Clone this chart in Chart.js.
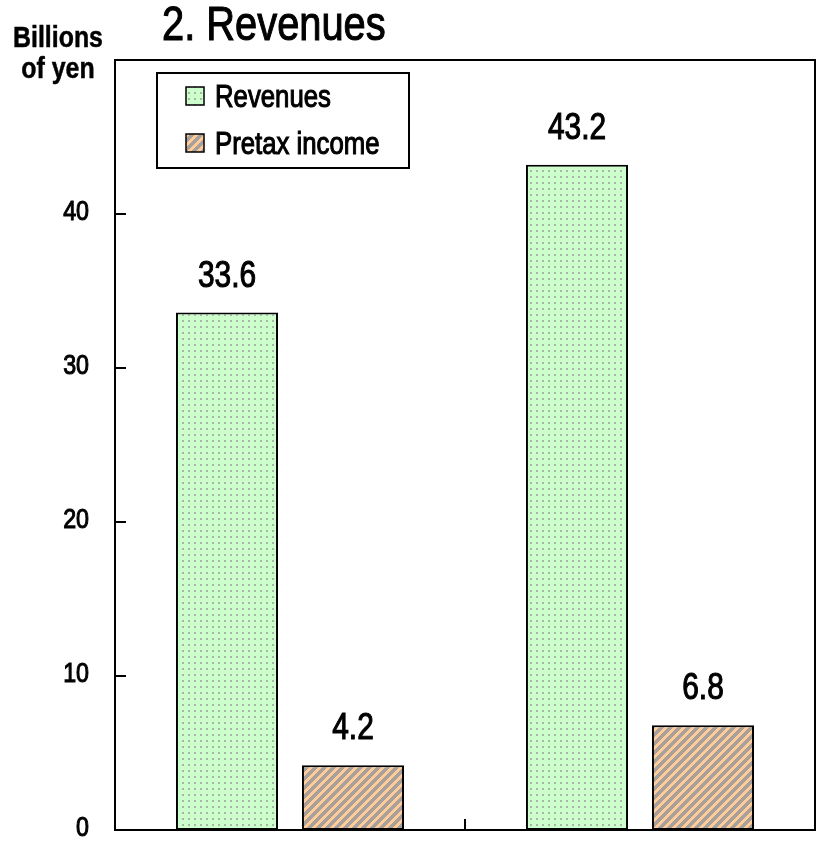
<!DOCTYPE html>
<html>
<head>
<meta charset="utf-8">
<script src="https://cdn.jsdelivr.net/npm/chart.js@4/dist/chart.umd.min.js"></script>
<style>
  html, body { margin: 0; padding: 0; background: #fff; }
  #chart { display: block; }
</style>
</head>
<body>
<canvas id="chart" width="817" height="846"></canvas>
<script>
// ---------------- DATA ----------------
const categories = ["Previous year", "Current year"];
const seriesNames = ["Revenues", "Pretax income"];
const revenues = [33.6, 43.2];
const pretaxIncome = [4.2, 6.8];
const yTicks = [0, 10, 20, 30, 40];
const yMax = 50;

// no narrow font installed, so squeeze Liberation Sans a bit
const FONT = "'Liberation Sans', Arial, sans-serif";
const SQUEEZE = 0.83;

function narrowText(ctx, str, x, y, size, align, weight) {
    ctx.save();
    ctx.font = (weight || "normal") + " " + size + "px " + FONT;
    ctx.textAlign = align;
    ctx.textBaseline = "alphabetic";
    ctx.translate(x, y);
    ctx.scale(SQUEEZE, 1);
    ctx.fillStyle = "#000";
    ctx.fillText(str, 0, 0);
    ctx.strokeStyle = "#000";
    ctx.lineWidth = weight === "bold" ? 0.5 : 1.1;
    ctx.strokeText(str, 0, 0);
    ctx.restore();
}

// ---------------- PATTERNS ----------------
function dotPattern() {
    let c = document.createElement("canvas");
    c.width = 6; c.height = 6;
    let g = c.getContext("2d");
    g.fillStyle = "#ccffcc";
    g.fillRect(0, 0, 6, 6);
    g.fillStyle = "#a9b5a9";
    g.fillRect(2, 2, 2, 2);
    return g.createPattern(c, "repeat");
}

function stripePattern() {
    let s = 9;
    let c = document.createElement("canvas");
    c.width = s; c.height = s;
    let g = c.getContext("2d");
    for (let x = 0; x < s; x++) {
        for (let y = 0; y < s; y++) {
            g.fillStyle = ((x + y) % s) < 4.5 ? "#a8a09a" : "#ffcc99";
            g.fillRect(x, y, 1, 1);
        }
    }
    return g.createPattern(c, "repeat");
}

const fills = [dotPattern(), stripePattern()];

// ---------------- EXTRAS (frame, ticks, texts, legend, labels) ----------------
const extras = {
    id: "extras",
    afterDraw(chart) {
        let ctx = chart.ctx;
        let a = chart.chartArea;
        let xs = chart.scales.x, ys = chart.scales.y;
        ctx.save();
        ctx.strokeStyle = "#000";
        ctx.lineWidth = 2;

        // top and right of the frame
        ctx.beginPath();
        ctx.moveTo(a.left, a.top);
        ctx.lineTo(a.right, a.top);
        ctx.lineTo(a.right, a.bottom);
        ctx.stroke();

        // inward y ticks + labels
        yTicks.forEach(v => {
            let y = Math.round(ys.getPixelForValue(v));
            ctx.beginPath();
            ctx.moveTo(a.left, y);
            ctx.lineTo(a.left + 11, y);
            ctx.stroke();
            narrowText(ctx, String(v), 89, y + 6, 28, "right");
        });

        // inward x tick between categories
        for (let i = 1; i < categories.length; i++) {
            let x = Math.round((xs.getPixelForValue(i - 1) + xs.getPixelForValue(i)) / 2);
            ctx.beginPath();
            ctx.moveTo(x, a.bottom);
            ctx.lineTo(x, a.bottom - 11);
            ctx.stroke();
        }

        // titles
        narrowText(ctx, "2. Revenues", 162, 40, 48, "left");
        narrowText(ctx, "Billions", 58, 47, 30, "center", "bold");
        narrowText(ctx, "of yen", 58, 78, 30, "center", "bold");

        // value labels
        chart.data.datasets.forEach((ds, di) => {
            chart.getDatasetMeta(di).data.forEach((bar, i) => {
                narrowText(ctx, ds.data[i].toFixed(1), bar.x, bar.y - 26, 36, "center");
            });
        });

        // legend
        ctx.lineWidth = 2;
        ctx.fillStyle = "#fff";
        ctx.fillRect(157, 73, 252, 95);
        ctx.strokeRect(157, 73, 252, 95);
        seriesNames.forEach((name, i) => {
            let top = 87 + i * 47;
            ctx.fillStyle = fills[i];
            ctx.fillRect(186, top, 18, 18);
            ctx.strokeStyle = "#000";
            ctx.lineWidth = 1.5;
            ctx.strokeRect(186, top, 18, 18);
            narrowText(ctx, name, 215, top + 20, 31, "left");
        });
        ctx.restore();
    }
};

// ---------------- DRAW CHART ----------------
new Chart(document.getElementById("chart"), {
    type: "bar",
    data: {
        labels: categories,
        datasets: [
            {
                label: seriesNames[0],
                data: revenues,
                backgroundColor: fills[0],
                borderColor: "#000",
                borderWidth: 2,
                borderSkipped: false,
                categoryPercentage: 0.72,
                barPercentage: 0.81
            },
            {
                label: seriesNames[1],
                data: pretaxIncome,
                backgroundColor: fills[1],
                borderColor: "#000",
                borderWidth: 2,
                borderSkipped: false,
                categoryPercentage: 0.72,
                barPercentage: 0.81
            }
        ]
    },
    options: {
        responsive: false,
        animation: false,
        layout: { padding: { top: 60, right: 2, left: 0, bottom: 0 } },
        plugins: {
            legend: { display: false },
            tooltip: { enabled: false }
        },
        scales: {
            x: {
                type: "category",
                offset: true,
                grid: { display: false },
                border: { display: true, color: "#000", width: 2 },
                ticks: { display: false },
                afterFit: s => { s.height = 16; }
            },
            y: {
                min: 0,
                max: yMax,
                grid: { display: false },
                border: { display: true, color: "#000", width: 2 },
                ticks: { display: false, stepSize: 10 },
                afterFit: s => { s.width = 115; }
            }
        }
    },
    plugins: [extras]
});
</script>
</body>
</html>
